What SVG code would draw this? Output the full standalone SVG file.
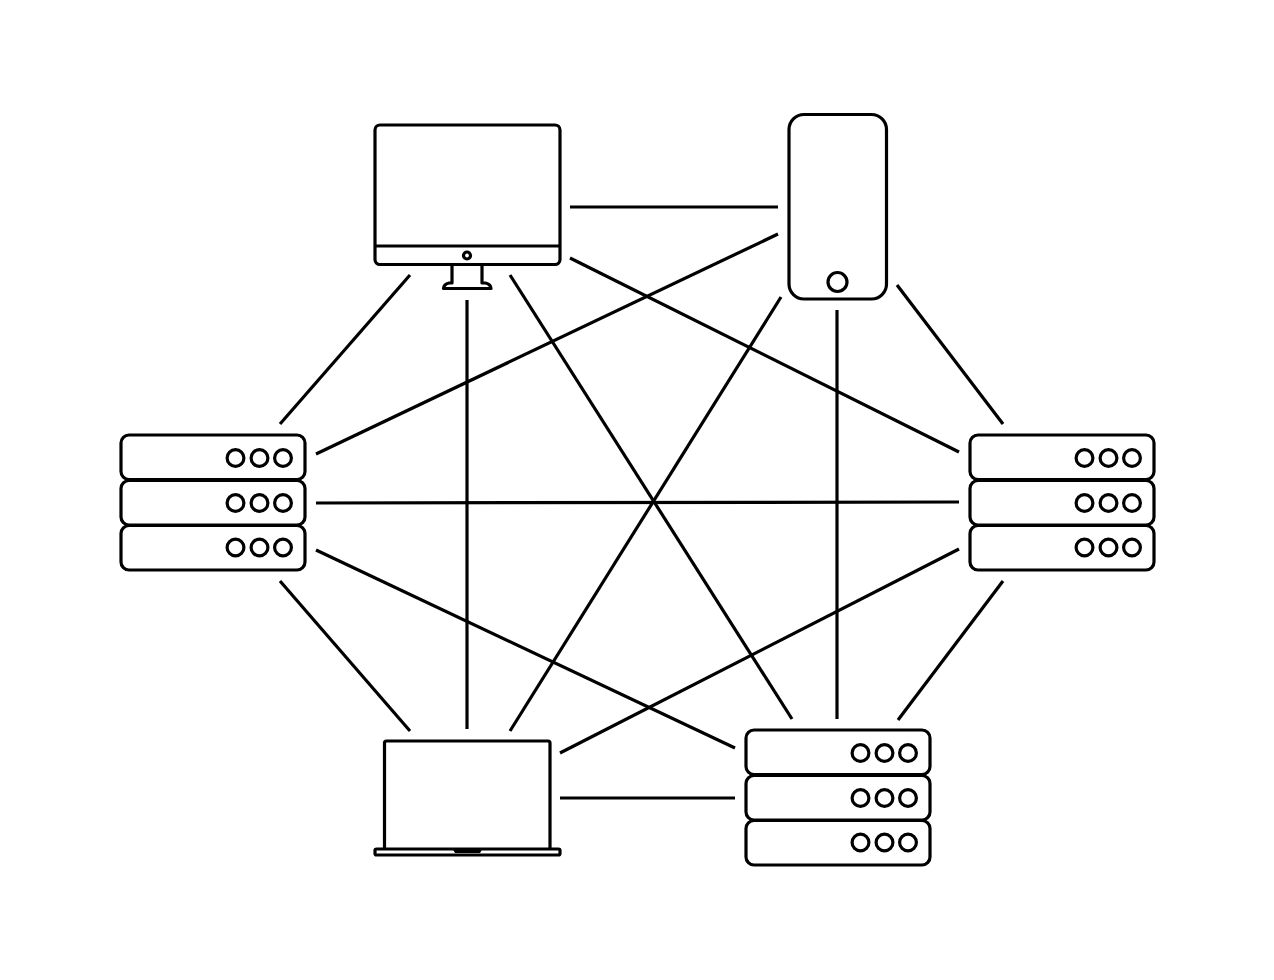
<svg xmlns="http://www.w3.org/2000/svg" width="1274" height="980" viewBox="0 0 1274 980">
<style>
.s{fill:none;stroke:#000;stroke-width:3.2;stroke-linejoin:round}
.c line{stroke:#000;stroke-width:3.2;fill:none}
</style>
<defs>
<g id="rack">
<rect class="s" x="121" y="435" width="184" height="44.5" rx="8"/>
<rect class="s" x="121" y="480.5" width="184" height="44.5" rx="8"/>
<rect class="s" x="121" y="525.500" width="184" height="44.500" rx="8"/>
<circle class="s" cx="235.500" cy="458" r="8.400"/><circle class="s" cx="259.500" cy="458" r="8.400"/><circle class="s" cx="283" cy="458" r="8.400"/>
<circle class="s" cx="235.500" cy="503" r="8.400"/><circle class="s" cx="259.500" cy="503" r="8.400"/><circle class="s" cx="283" cy="503" r="8.400"/>
<circle class="s" cx="235.500" cy="547.500" r="8.400"/><circle class="s" cx="259.500" cy="547.500" r="8.400"/><circle class="s" cx="283" cy="547.500" r="8.400"/>
</g>
</defs>
<rect width="1274" height="980" fill="#fff"/>
<g id="connectors" class="c">
<line x1="570" y1="207" x2="778" y2="207"/>
<line x1="570" y1="258" x2="959" y2="452"/>
<line x1="778" y1="234" x2="316" y2="454"/>
<line x1="410" y1="275" x2="280" y2="424"/>
<line x1="467" y1="300" x2="467" y2="729"/>
<line x1="510" y1="275" x2="792" y2="719"/>
<line x1="781" y1="297" x2="510" y2="731"/>
<line x1="837" y1="310" x2="837" y2="719"/>
<line x1="897" y1="285" x2="1003" y2="424"/>
<line x1="316" y1="503" x2="959" y2="502"/>
<line x1="316" y1="550" x2="735" y2="748"/>
<line x1="280" y1="581" x2="410" y2="731"/>
<line x1="560" y1="753" x2="959" y2="549"/>
<line x1="1003" y1="581" x2="898" y2="720"/>
<line x1="560" y1="798" x2="735" y2="798"/>
</g>
<g id="monitor">
<rect class="s" x="375" y="125" width="185" height="139.500" rx="5"/>
<line class="s" x1="375" y1="246" x2="560" y2="246"/>
<circle class="s" cx="467" cy="255.500" r="3.500"/>
<path class="s" d="M452 265V283H449Q444 284 443.500 288.500H491Q490.500 284 485.500 283H482V265"/>
</g>
<g id="phone">
<rect class="s" x="789" y="114.500" width="97.500" height="184.500" rx="15"/>
<circle class="s" cx="837.500" cy="282" r="9.500"/>
</g>
<g id="laptop">
<path class="s" d="M384.500 849V743Q384.500 741 386.500 741H548Q550 741 550 743V849"/>
<rect class="s" x="375" y="849" width="185" height="6" rx="1.500"/>
<path d="M452 848H483L480 853H455Z" fill="#000"/>
</g>
<g id="server-left"><use href="#rack"/></g>
<g id="server-right"><use href="#rack" x="849"/></g>
<g id="server-bottom"><use href="#rack" x="625" y="295"/></g>
</svg>
